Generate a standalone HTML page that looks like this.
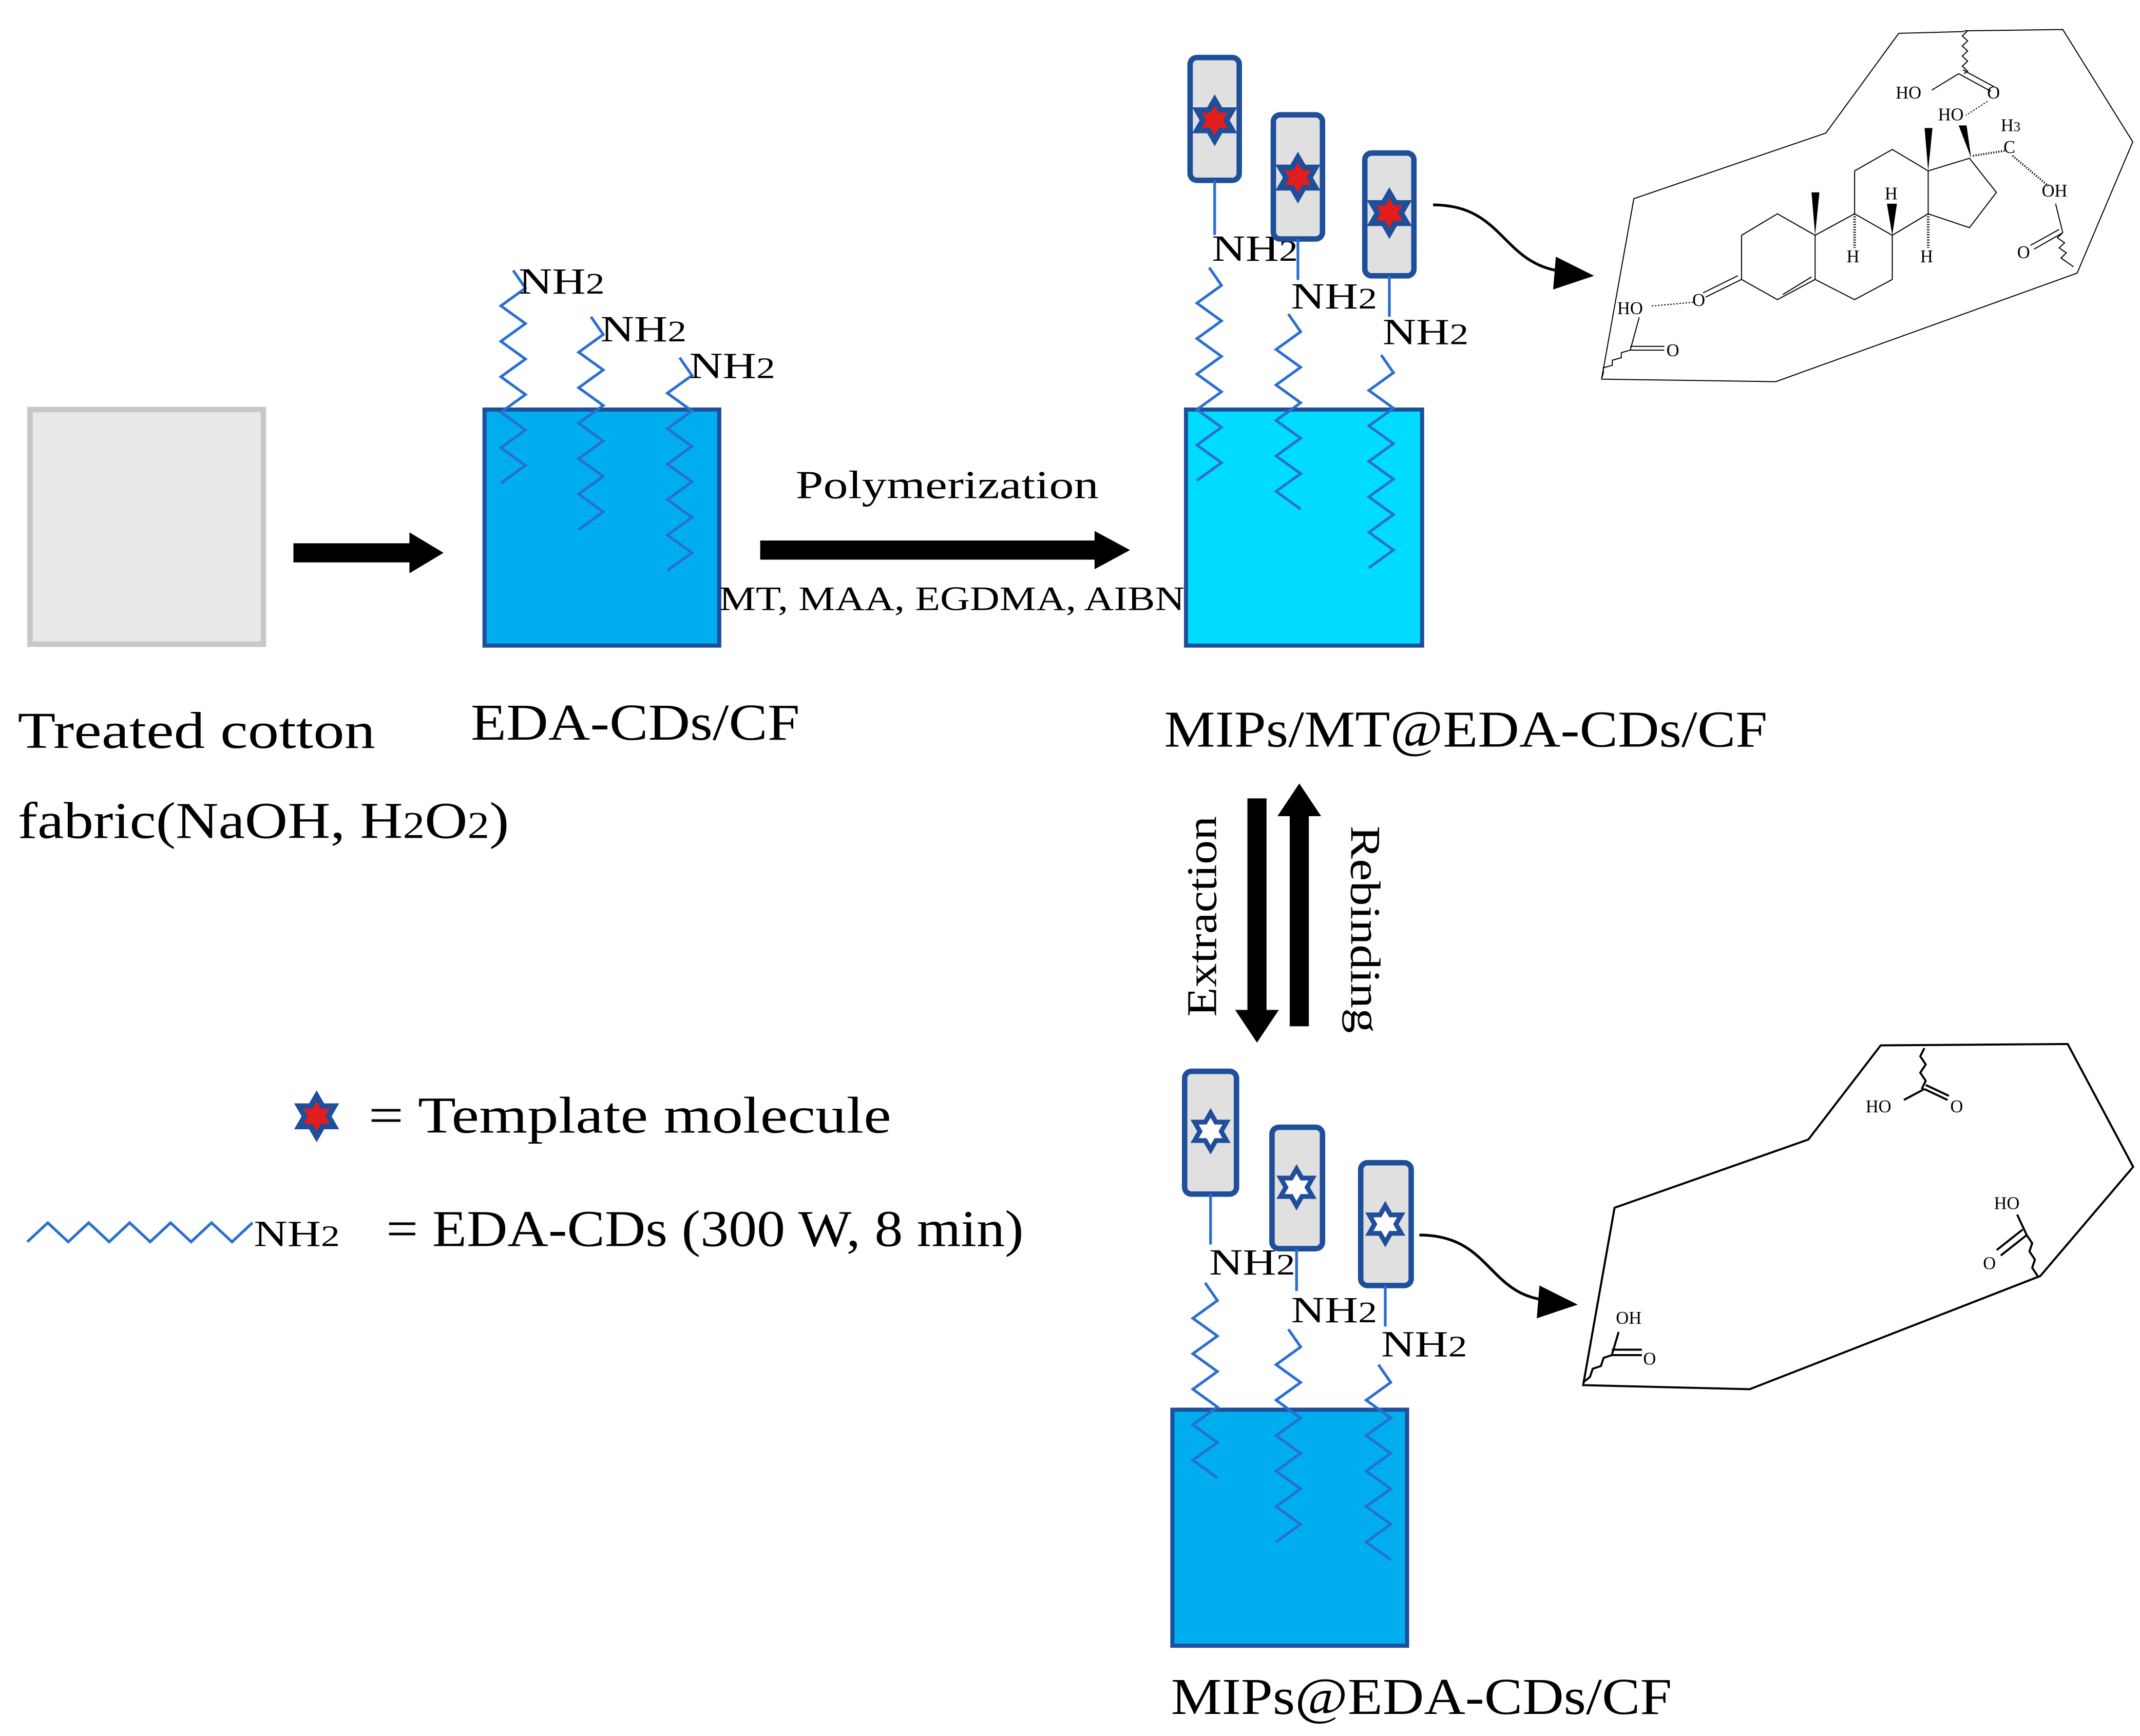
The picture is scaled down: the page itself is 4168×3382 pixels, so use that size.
<!DOCTYPE html>
<html><head><meta charset="utf-8">
<style>
html,body{margin:0;padding:0;background:#fff;}
svg{display:block;}
text{font-family:"Liberation Serif",serif;fill:#000;}
</style></head>
<body>
<svg id="s" width="4168" height="3382" viewBox="0 0 1568 1272" xmlns="http://www.w3.org/2000/svg">
<defs>
<g id="starF"><polygon points="0,-19 16.5,9.5 -16.5,9.5" fill="#1f4e9a"/><polygon points="0,19 16.5,-9.5 -16.5,-9.5" fill="#1f4e9a"/><polygon points="0,-11 9.5,5.5 -9.5,5.5" fill="#e31c1c"/><polygon points="0,11 9.5,-5.5 -9.5,-5.5" fill="#e31c1c"/></g>
<g id="starH"><polygon points="0,-17 14.7,8.5 -14.7,8.5" fill="#1f4e9a"/><polygon points="0,17 14.7,-8.5 -14.7,-8.5" fill="#1f4e9a"/><polygon points="0,-10 8.7,5 -8.7,5" fill="#fff"/><polygon points="0,10 8.7,-5 -8.7,-5" fill="#fff"/></g>
</defs>

<rect x="22" y="300" width="171" height="172" fill="#e9e9e9" stroke="#c8c8c8" stroke-width="4"/>
<polygon points="215,398 300,398 300,390 325,405 300,420 300,412 215,412" fill="#000"/>

<rect x="355" y="300" width="172" height="173" fill="#00aeef" stroke="#1f4e9a" stroke-width="3"/>
<rect x="869" y="300" width="173" height="173" fill="#00dcff" stroke="#1f4e9a" stroke-width="3"/>
<rect x="859" y="1033" width="172" height="173" fill="#00aeef" stroke="#1f4e9a" stroke-width="3"/>
<g id="chains" fill="none" stroke="#2a6fd0" stroke-width="2"></g>

<g font-size="27">
<text x="380" y="215" textLength="63" lengthAdjust="spacingAndGlyphs">NH<tspan font-size="22">2</tspan></text>
<text x="440" y="250" textLength="63" lengthAdjust="spacingAndGlyphs">NH<tspan font-size="22">2</tspan></text>
<text x="505" y="277" textLength="63" lengthAdjust="spacingAndGlyphs">NH<tspan font-size="22">2</tspan></text>
<text x="888" y="191" textLength="63" lengthAdjust="spacingAndGlyphs">NH<tspan font-size="22">2</tspan></text>
<text x="946" y="226" textLength="63" lengthAdjust="spacingAndGlyphs">NH<tspan font-size="22">2</tspan></text>
<text x="1013" y="252" textLength="63" lengthAdjust="spacingAndGlyphs">NH<tspan font-size="22">2</tspan></text>
<text x="886" y="934" textLength="63" lengthAdjust="spacingAndGlyphs">NH<tspan font-size="22">2</tspan></text>
<text x="946" y="969" textLength="63" lengthAdjust="spacingAndGlyphs">NH<tspan font-size="22">2</tspan></text>
<text x="1012" y="994" textLength="63" lengthAdjust="spacingAndGlyphs">NH<tspan font-size="22">2</tspan></text>
</g>

<polygon points="557,396 802,396 802,389 828,403 802,417 802,410 557,410" fill="#000"/>
<text x="583" y="365" font-size="29" textLength="222" lengthAdjust="spacingAndGlyphs">Polymerization</text>
<text x="527" y="447" font-size="25" textLength="341" lengthAdjust="spacingAndGlyphs">MT, MAA, EGDMA, AIBN</text>

<g fill="#e0e0e0" stroke="#1f4e9a" stroke-width="4">
<rect x="872" y="42" width="36" height="90" rx="5"/>
<rect x="933" y="84" width="36" height="91" rx="5"/>
<rect x="1000" y="112" width="36" height="90" rx="5"/>
<rect x="868" y="785" width="38" height="90" rx="5"/>
<rect x="932" y="826" width="37" height="89" rx="5"/>
<rect x="997" y="852" width="37" height="90" rx="5"/>
</g>
<use href="#starF" x="890" y="88"/>
<use href="#starF" x="951" y="130"/>
<use href="#starF" x="1018" y="156"/>
<use href="#starH" x="887" y="829"/>
<use href="#starH" x="950" y="870"/>
<use href="#starH" x="1015" y="897"/>
<g stroke="#2a6fd0" stroke-width="2">
<line x1="890" y1="132" x2="890" y2="172"/>
<line x1="951" y1="175" x2="951" y2="205"/>
<line x1="1018" y1="202" x2="1018" y2="232"/>
<line x1="887" y1="875" x2="887" y2="912"/>
<line x1="950" y1="915" x2="950" y2="946"/>
<line x1="1015" y1="942" x2="1015" y2="972"/>
</g>

<path d="M1050,150 C1100,150 1100,190 1140,198" fill="none" stroke="#000" stroke-width="2"/>
<polygon points="1168,202 1140,188 1138,212" fill="#000"/>
<path d="M1040,905 C1090,905 1090,945 1128,952" fill="none" stroke="#000" stroke-width="2"/>
<polygon points="1156,956 1128,942 1126,966" fill="#000"/>

<g font-size="38">
<text x="13" y="548" textLength="262" lengthAdjust="spacingAndGlyphs">Treated cotton</text>
<text x="13" y="614" textLength="360" lengthAdjust="spacingAndGlyphs">fabric(NaOH, H<tspan font-size="28">2</tspan>O<tspan font-size="28">2</tspan>)</text>
<text x="345" y="542" textLength="241" lengthAdjust="spacingAndGlyphs">EDA-CDs/CF</text>
<text x="853" y="547" textLength="442" lengthAdjust="spacingAndGlyphs">MIPs/MT@EDA-CDs/CF</text>
<text x="858" y="1256" textLength="367" lengthAdjust="spacingAndGlyphs">MIPs@EDA-CDs/CF</text>
</g>

<polygon points="914,585 928,585 928,740 937,740 921,764 905,740 914,740" fill="#000"/>
<polygon points="945,752 959,752 959,598 968,598 952,574 936,598 945,598" fill="#000"/>
<text transform="translate(891,745) rotate(-90)" font-size="31" textLength="147" lengthAdjust="spacingAndGlyphs">Extraction</text>
<text transform="translate(990,605) rotate(90)" font-size="31" textLength="152" lengthAdjust="spacingAndGlyphs">Rebinding</text>

<use href="#starF" x="232" y="818"/>
<text x="270" y="830" font-size="38" textLength="383" lengthAdjust="spacingAndGlyphs">= Template molecule</text>
<path id="legz" fill="none" stroke="#2a6fd0" stroke-width="2"/>
<text x="186" y="913" font-size="27" textLength="63" lengthAdjust="spacingAndGlyphs">NH<tspan font-size="22">2</tspan></text>
<text x="283" y="913" font-size="38" textLength="467" lengthAdjust="spacingAndGlyphs">= EDA-CDs (300 W, 8 min)</text>

<g transform="translate(1159,3) scale(0.263,0.185)" fill="none" stroke="#000" stroke-width="2">
<polyline vector-effect="non-scaling-stroke" points="1065,105 1340,100 1535,545 1380,1065 540,1495 55,1485 145,770 680,510 883,115 1065,108"/>
<polygon vector-effect="non-scaling-stroke" points="445,915 545,830 650,915 650,1090 545,1170 445,1090"/>
<polyline vector-effect="non-scaling-stroke" points="650,915 760,830 865,915 865,1090 760,1170 650,1090"/>
<polyline vector-effect="non-scaling-stroke" points="760,830 760,660 865,575 965,660 965,830 865,915"/>
<polyline vector-effect="non-scaling-stroke" points="965,660 1080,610 1155,745 1080,885 965,830"/>
<line vector-effect="non-scaling-stroke" x1="560" y1="1150" x2="640" y2="1080"/>
<line vector-effect="non-scaling-stroke" x1="445" y1="1090" x2="345" y2="1160"/>
<line vector-effect="non-scaling-stroke" x1="435" y1="1075" x2="338" y2="1143"/>
<line vector-effect="non-scaling-stroke" x1="1050" y1="275" x2="975" y2="340"/>
<line vector-effect="non-scaling-stroke" x1="1050" y1="275" x2="1140" y2="345"/>
<line vector-effect="non-scaling-stroke" x1="1062" y1="260" x2="1150" y2="328"/>
<line vector-effect="non-scaling-stroke" x1="1130" y1="385" x2="1070" y2="440" stroke-dasharray="3,3"/>
<line vector-effect="non-scaling-stroke" x1="1320" y1="790" x2="1340" y2="905"/>
<line vector-effect="non-scaling-stroke" x1="1340" y1="905" x2="1260" y2="970"/>
<line vector-effect="non-scaling-stroke" x1="1330" y1="892" x2="1250" y2="955"/>
<line vector-effect="non-scaling-stroke" x1="135" y1="1370" x2="230" y2="1370"/>
<line vector-effect="non-scaling-stroke" x1="135" y1="1355" x2="230" y2="1355"/>
<line vector-effect="non-scaling-stroke" x1="135" y1="1370" x2="160" y2="1240"/>
<line vector-effect="non-scaling-stroke" x1="195" y1="1195" x2="315" y2="1180" stroke-dasharray="3,3"/>
<path vector-effect="non-scaling-stroke" d="M1075,105 l-15,20 l15,20 l-15,20 l15,20 l-15,20 l15,20 l-15,20 l15,20 l-10,10"/>
<path vector-effect="non-scaling-stroke" d="M1340,905 l-15,20 l20,20 l-15,20 l20,20 l-15,20 l20,20 l15,15"/>
<path vector-effect="non-scaling-stroke" d="M135,1370 l-25,10 l0,20 l-25,10 l0,20 l-25,10 l0,20 l-5,25"/>
<path vector-effect="non-scaling-stroke" d="M1090,600 L1180,580" stroke-dasharray="2,3" stroke-width="4"/>
<path vector-effect="non-scaling-stroke" d="M1200,600 L1300,720" stroke-dasharray="2,3" stroke-width="4"/>
<path vector-effect="non-scaling-stroke" d="M760,830 L760,965 M965,830 L965,965" stroke-dasharray="2,3" stroke-width="5"/>
<polygon points="640,745 662,745 650,915" fill="#000" stroke="none"/>
<polygon points="955,490 977,490 965,660" fill="#000" stroke="none"/>
<polygon points="850,790 878,790 865,915" fill="#000" stroke="none"/>
<polygon points="1050,480 1072,480 1085,610" fill="#000" stroke="none"/>
</g>
<g font-size="13">
<text x="1389" y="72">HO</text><text x="1456" y="72">O</text>
<text x="1420" y="88">HO</text><text x="1466" y="96">H<tspan font-size="10">3</tspan></text>
<text x="1468" y="112">C</text><text x="1496" y="144">OH</text>
<text x="1478" y="189">O</text>
<text x="1381" y="146">H</text><text x="1353" y="192">H</text><text x="1407" y="192">H</text>
<text x="1240" y="224">O</text><text x="1185" y="230">HO</text><text x="1221" y="261">O</text>
</g>

<g fill="none" stroke="#000" stroke-width="1.5">
<polygon points="1183,885 1325,835 1378,766 1515,765 1563,855 1495,935 1282,1018 1160,1015"/>
<path d="M1410,768 l-3,6 l4,6 l-4,6 l4,6 l-3,6 M1410,798 l-15,8 M1410,798 l17,8 M1411,795 l17,8"/>
<path d="M1478,890 L1485,905 M1485,905 L1466,920 M1482,901 L1463,916 M1485,905 l4,6 l-2,6 l4,6 l-2,6 l4,6"/>
<path d="M1160,1013 l5,-4 l2,-6 l6,-2 l2,-6 l6,-2 M1181,993 l22,0 M1181,989 l22,0 M1181,993 l5,-17"/>
</g>
<g font-size="13">
<text x="1367" y="815">HO</text><text x="1429" y="815">O</text>
<text x="1461" y="886">HO</text><text x="1453" y="930">O</text>
<text x="1184" y="970">OH</text><text x="1204" y="1000">O</text>
</g>
<script>
function zz(x,y0,y1,amp,step){var d="M"+x+","+y0,s=1,y=y0;while(y+step<=y1){y+=step;d+=" L"+(x+s*amp)+","+y;s=-s;}return d;}
var c=document.getElementById("chains"),ns="http://www.w3.org/2000/svg";
[[376,198,358],[433,232,396],[498,262,418],[886,196,355],[944,230,382],[1012,260,416],[883,940,1095],[944,974,1130],[1010,1000,1155]].forEach(function(a){
var p=document.createElementNS(ns,"path");p.setAttribute("d",zz(a[0],a[1],a[2],9,13));c.appendChild(p);});
var d="M20,910",x=20,s=-1;for(var i=0;i<11;i++){x+=15;d+=" L"+x+","+(903+s*7);s=-s;}
document.getElementById("legz").setAttribute("d",d);
</script>
</svg>
</body></html>
